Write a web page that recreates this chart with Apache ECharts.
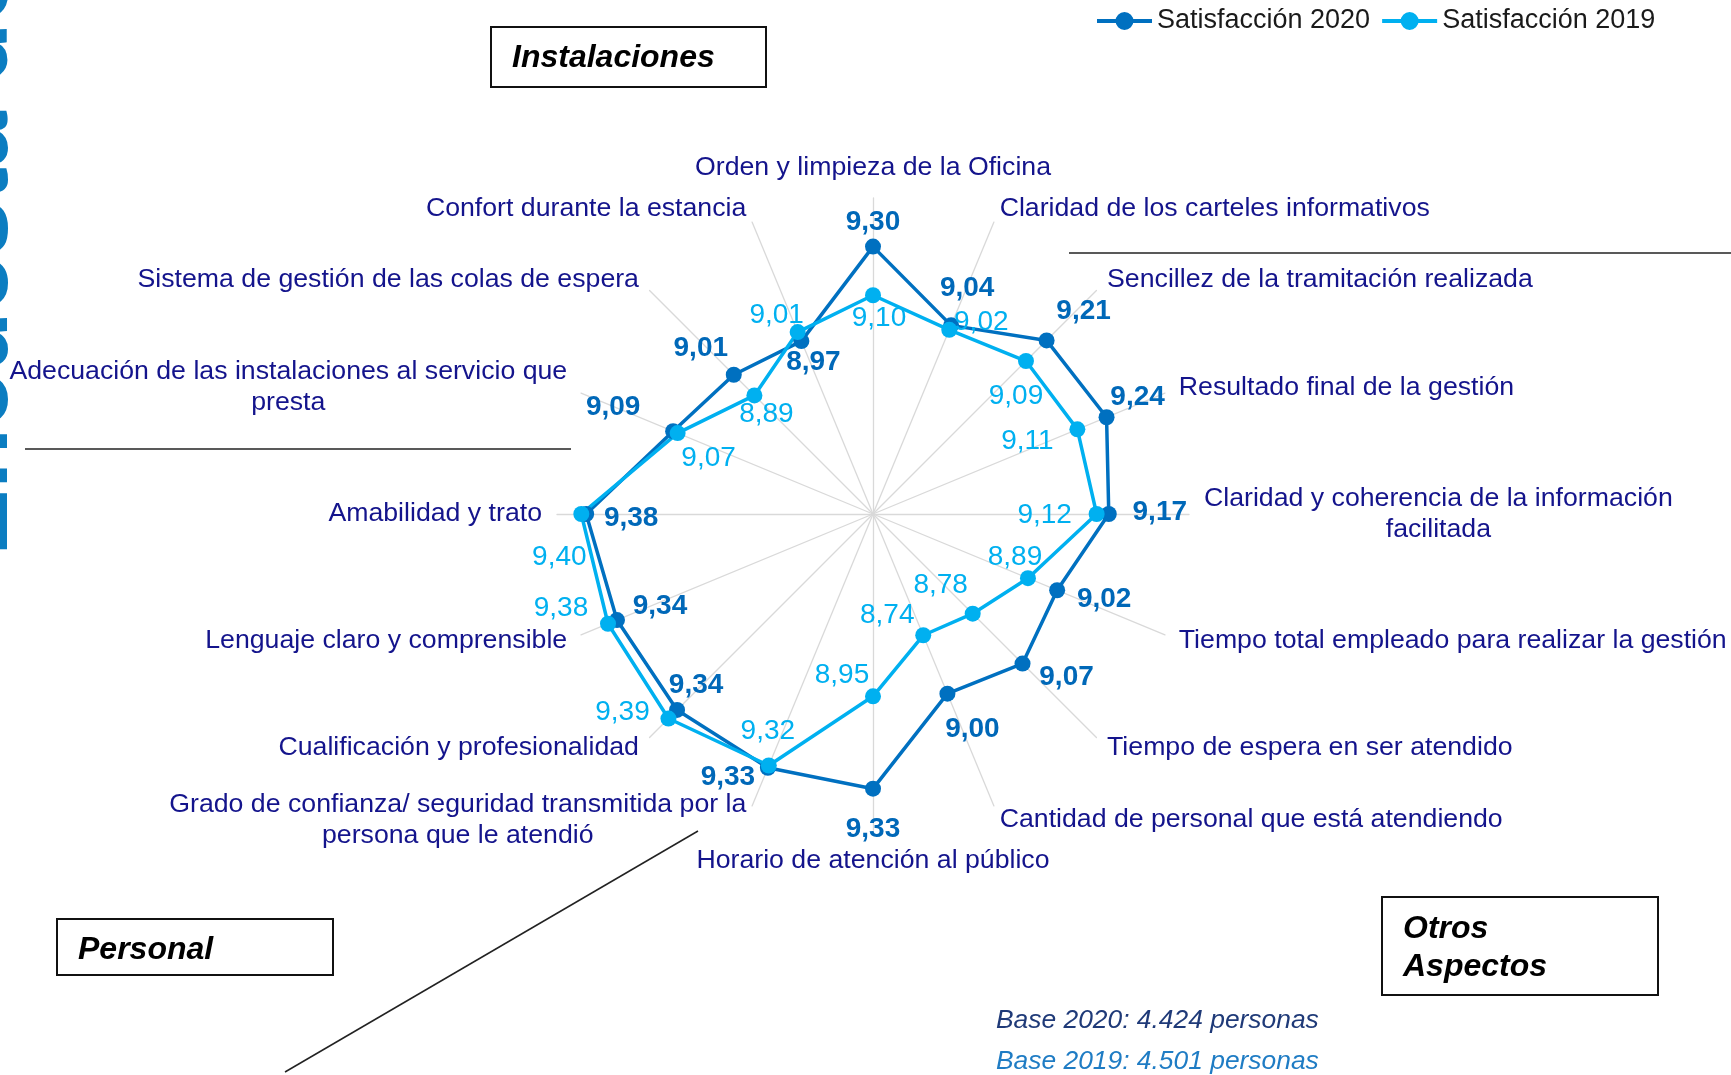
<!DOCTYPE html>
<html>
<head>
<meta charset="utf-8">
<title>Satisfacción 2020 - 2019</title>
<script src="https://cdn.jsdelivr.net/npm/echarts@6/dist/echarts.min.js"></script>
<style>
html, body { margin: 0; padding: 0; background: #fff; overflow: hidden; }
#radar { width: 1731px; height: 1075px; }
</style>
</head>
<body>
<div id="radar"></div>
<script>
// aspectos valorados, en sentido horario desde arriba
var aspectos = [
    'Orden y limpieza de la Oficina',
    'Claridad de los carteles informativos',
    'Sencillez de la tramitación realizada',
    'Resultado final de la gestión',
    'Claridad y coherencia de la información\nfacilitada',
    'Tiempo total empleado para realizar la gestión',
    'Tiempo de espera en ser atendido',
    'Cantidad de personal que está atendiendo',
    'Horario de atención al público',
    'Grado de confianza/ seguridad transmitida por la\npersona que le atendió',
    'Cualificación y profesionalidad',
    'Lenguaje claro y comprensible',
    'Amabilidad y trato',
    'Adecuación de las instalaciones al servicio que\npresta',
    'Sistema de gestión de las colas de espera',
    'Confort durante la estancia'
];
var sat2020 = [9.30, 9.04, 9.21, 9.24, 9.17, 9.02, 9.07, 9.00, 9.33, 9.33, 9.34, 9.34, 9.38, 9.09, 9.01, 8.97];
var sat2019 = [9.10, 9.02, 9.09, 9.11, 9.12, 8.89, 8.78, 8.74, 8.95, 9.32, 9.39, 9.38, 9.40, 9.07, 8.89, 9.01];
var escalaMin = 8.2;
var escalaMax = 9.5;

// desplazamiento de cada etiqueta de valor respecto a su punto (px)
var desp2020 = [[0, -24], [16, -37], [37, -29], [31, -20], [51, -2], [47, 9], [44, 14], [25, 36],
                [0, 41], [-40, 10], [19, -25], [43, -14], [45, 4], [-60, -24], [-33, -26], [12, 21]];
var desp2019 = [[6, 23], [32, -8], [-10, 35], [-50, 12], [-52, 1], [-13, -21], [-32, -28], [-36, -20],
                [-31, -21], [-1, -34], [-46, -6], [-47, -15], [-22, 43], [31, 25], [12, 19], [-21, -17]];

var FUENTE = "'Liberation Sans', Arial, sans-serif";
var AZUL = '#0070C0';
var CELESTE = '#00B0F0';
var MARINO = '#14148C';
var CENTRO = [873, 514];
var RADIO = 316;

// el radar de echarts reparte los ejes en sentido antihorario
var orden = aspectos.map(function (a, i) { return i === 0 ? 0 : aspectos.length - i; });
function enOrden(arr) {
    return orden.map(function (i) { return arr[i]; });
}

function coma(v) {
    return v.toFixed(2).replace('.', ',');
}

function etiquetas(valores, desp) {
    return valores.map(function (v, i) {
        return { value: [v, i * 360 / valores.length], label: { offset: desp[i] } };
    });
}

var iconoLeyenda = 'path://M0,7H55V11H0Z M18.5,9A9,9 0 1,1 36.5,9A9,9 0 1,1 18.5,9Z';

var option = {
    backgroundColor: '#fff',
    animation: false,
    legend: {
        data: ['Satisfacción 2020', 'Satisfacción 2019'],
        left: 1092,
        top: 1,
        icon: iconoLeyenda,
        itemWidth: 55,
        itemHeight: 18,
        itemGap: 12,
        selectedMode: false,
        textStyle: { fontSize: 27, color: '#1a1a1a', fontFamily: FUENTE, lineHeight: 30 }
    },
    radar: {
        center: CENTRO,
        radius: RADIO,
        startAngle: 90,
        shape: 'polygon',
        splitNumber: 1,
        nameGap: 15,
        axisName: {
            formatter: function (nombre) {
                return nombre.split('\n').map(function (l) { return '{c|' + l + '}'; }).join('\n');
            },
            rich: {
                c: { align: 'center', fontSize: 26.7, lineHeight: 31, color: MARINO, fontFamily: FUENTE }
            }
        },
        axisLine: { lineStyle: { color: '#d9d9d9', width: 1.3 } },
        splitLine: { show: false },
        splitArea: { show: false },
        axisTick: { show: false },
        axisLabel: { show: false },
        indicator: enOrden(aspectos).map(function (n) {
            return { name: n, min: escalaMin, max: escalaMax };
        })
    },
    polar: { center: CENTRO, radius: RADIO },
    angleAxis: {
        type: 'value', min: 0, max: 360, startAngle: 90, clockwise: true, show: false,
        splitLine: { show: false }, axisLine: { show: false }, axisLabel: { show: false }, axisTick: { show: false }
    },
    radiusAxis: {
        type: 'value', min: escalaMin, max: escalaMax, show: false,
        splitLine: { show: false }, axisLine: { show: false }, axisLabel: { show: false }, axisTick: { show: false }
    },
    series: [
        {
            type: 'radar',
            name: 'Satisfacción 2020',
            symbol: 'circle',
            symbolSize: 16,
            lineStyle: { width: 3.5, color: AZUL },
            itemStyle: { color: AZUL },
            data: [{ name: 'Satisfacción 2020', value: enOrden(sat2020) }]
        },
        {
            type: 'radar',
            name: 'Satisfacción 2019',
            symbol: 'circle',
            symbolSize: 16,
            lineStyle: { width: 3.5, color: CELESTE },
            itemStyle: { color: CELESTE },
            data: [{ name: 'Satisfacción 2019', value: enOrden(sat2019) }]
        },
        {
            type: 'scatter',
            coordinateSystem: 'polar',
            symbolSize: 1,
            itemStyle: { color: 'rgba(0,0,0,0)' },
            silent: true,
            z: 5,
            label: {
                show: true, position: 'inside', fontSize: 28, fontWeight: 'bold', color: '#0068B8', fontFamily: FUENTE,
                textBorderWidth: 0, opacity: 1,
                formatter: function (p) { return coma(p.value[0]); }
            },
            data: etiquetas(sat2020, desp2020)
        },
        {
            type: 'scatter',
            coordinateSystem: 'polar',
            symbolSize: 1,
            itemStyle: { color: 'rgba(0,0,0,0)' },
            silent: true,
            z: 5,
            label: {
                show: true, position: 'inside', fontSize: 28, color: CELESTE, fontFamily: FUENTE,
                textBorderWidth: 0, opacity: 1,
                formatter: function (p) { return coma(p.value[0]); }
            },
            data: etiquetas(sat2019, desp2019)
        }
    ],
    graphic: [
        {
            type: 'text', x: 29, y: 556, rotation: Math.PI / 2, silent: true,
            style: { text: 'Encuesta de satisfacción', fill: '#0B7DC1', font: "bold 100px 'Liberation Sans', Arial, sans-serif",
                     textAlign: 'left', textVerticalAlign: 'bottom' }
        },
        { type: 'line', shape: { x1: 1069, y1: 253, x2: 1731, y2: 253 }, style: { stroke: '#222', lineWidth: 1.5 } },
        { type: 'line', shape: { x1: 25, y1: 449, x2: 571, y2: 449 }, style: { stroke: '#222', lineWidth: 1.5 } },
        { type: 'line', shape: { x1: 698, y1: 831, x2: 285, y2: 1072 }, style: { stroke: '#222', lineWidth: 1.5 } },
        { type: 'rect', shape: { x: 491, y: 27, width: 275, height: 60 }, style: { fill: '#fff', stroke: '#111', lineWidth: 2 } },
        {
            type: 'text', x: 512, y: 58,
            style: { text: 'Instalaciones', fill: '#000', font: "italic bold 32px 'Liberation Sans', Arial, sans-serif", textVerticalAlign: 'middle' }
        },
        { type: 'rect', shape: { x: 57, y: 919, width: 276, height: 56 }, style: { fill: '#fff', stroke: '#111', lineWidth: 2 } },
        {
            type: 'text', x: 78, y: 950,
            style: { text: 'Personal', fill: '#000', font: "italic bold 32px 'Liberation Sans', Arial, sans-serif", textVerticalAlign: 'middle' }
        },
        { type: 'rect', shape: { x: 1382, y: 897, width: 276, height: 98 }, style: { fill: '#fff', stroke: '#111', lineWidth: 2 } },
        {
            type: 'text', x: 1403, y: 948,
            style: { text: 'Otros\nAspectos', fill: '#000', font: "italic bold 32px 'Liberation Sans', Arial, sans-serif",
                     lineHeight: 38, textVerticalAlign: 'middle' }
        },
        {
            type: 'text', x: 996, y: 1021,
            style: { text: 'Base 2020: 4.424 personas', fill: '#1F3A78', font: "italic 26.4px 'Liberation Sans', Arial, sans-serif", textVerticalAlign: 'middle' }
        },
        {
            type: 'text', x: 996, y: 1062,
            style: { text: 'Base 2019: 4.501 personas', fill: '#1F7CC4', font: "italic 26.4px 'Liberation Sans', Arial, sans-serif", textVerticalAlign: 'middle' }
        }
    ]
};

var grafico = echarts.init(document.getElementById('radar'), null, { renderer: 'canvas' });
grafico.setOption(option);
</script>
</body>
</html>
